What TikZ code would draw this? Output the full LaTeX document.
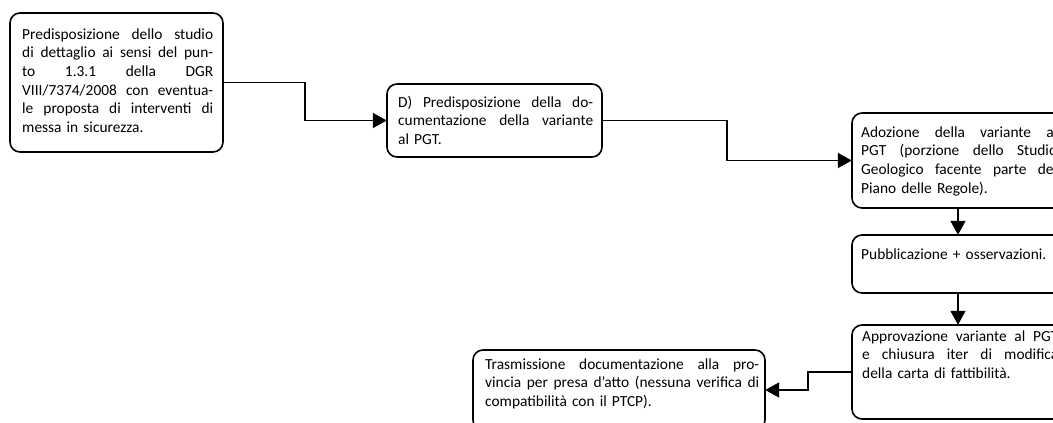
\documentclass[tikz,border=0pt]{standalone}
\usepackage{fontspec}
\setmainfont{Carlito}
\usetikzlibrary{arrows.meta}
\newcommand\jl[2]{\leavevmode\hbox to #1{\frenchspacing\spaceskip=0.226em plus 1fil\relax #2}\\}
\tikzset{
  box/.style={draw=black, line width=1.6pt, rounded corners=10pt, fill=white},
  txt/.style={anchor=base west, inner sep=0pt, align=left, font=\fontsize{15.4}{18.7}\selectfont},
  conn/.style={line width=1.6pt, -{Triangle[length=14pt,width=15pt]}},
}
\begin{document}
\begin{tikzpicture}[x=1pt,y=-1pt]
\useasboundingbox (0,0) rectangle (1053,423);
\clip (0,0) rectangle (1053,423);
\fill[white] (0,0) rectangle (1053,423);
% boxes
\draw[box] (10,13) rectangle (223,152);
\node[inner sep=0pt, minimum width=213pt, minimum height=139pt] (b1) at (116.5,82.5) {};
\draw[box] (387,84) rectangle (602,157);
\node[inner sep=0pt, minimum width=215pt, minimum height=73pt] (b2) at (494.5,120.5) {};
\draw[box] (852,113) rectangle (1064,208);
\node[inner sep=0pt, minimum width=212pt, minimum height=95pt] (b3) at (958,160.5) {};
\draw[box] (852,235) rectangle (1064,293);
\node[inner sep=0pt, minimum width=212pt, minimum height=58pt] (b4) at (958,264) {};
\draw[box] (852,325) rectangle (1064,419);
\node[inner sep=0pt, minimum width=212pt, minimum height=94pt] (b5) at (958,372) {};
\draw[box] (473,350) rectangle (765,430);
\node[inner sep=0pt, minimum width=292pt, minimum height=80pt] (b6) at (619,390) {};
% texts
\node[txt, text width=191pt] (t1) at (22,39) {\jl{191pt}{Predisposizione dello studio}\jl{191pt}{di dettaglio ai sensi del pun-}\jl{191pt}{to 1.3.1 della DGR}\jl{191pt}{VIII/7374/2008 con eventua-}\jl{191pt}{le proposta di interventi di}messa in sicurezza.};
\node[txt, text width=195pt] (t2) at (398,107) {\jl{195pt}{D) Predisposizione della do-}\jl{195pt}{cumentazione della variante}al PGT.};
\node[txt, text width=196pt] (t3) at (861,137) {\jl{196pt}{Adozione della variante al}\jl{196pt}{PGT (porzione dello Studio}\jl{196pt}{Geologico facente parte del}Piano delle Regole).};
\node[txt, text width=196pt] (t4) at (861,259) {Pubblicazione + osservazioni.};
\node[txt, text width=196pt] (t5) at (862,341) {\jl{196pt}{Approvazione variante al PGT}\jl{196pt}{e chiusura iter di modifica}della carta di fattibilità.};
\node[txt, text width=274pt] (t6) at (485,369) {\jl{274pt}{Trasmissione documentazione alla pro-}\jl{274pt}{vincia per presa d’atto (nessuna verifica di}compatibilità con il PTCP).};
% connectors
\draw[conn] (b1.east) -- ++(82,0) |- (b2.west);
\draw[conn] (b2.east) -- ++(125,0) |- (b3.west);
\draw[conn] (b3.south) -- (b4.north);
\draw[conn] (b4.south) -- (b5.north);
\draw[conn] (b5.west) -- ++(-44,0) |- (b6.east);
\end{tikzpicture}
\end{document}
